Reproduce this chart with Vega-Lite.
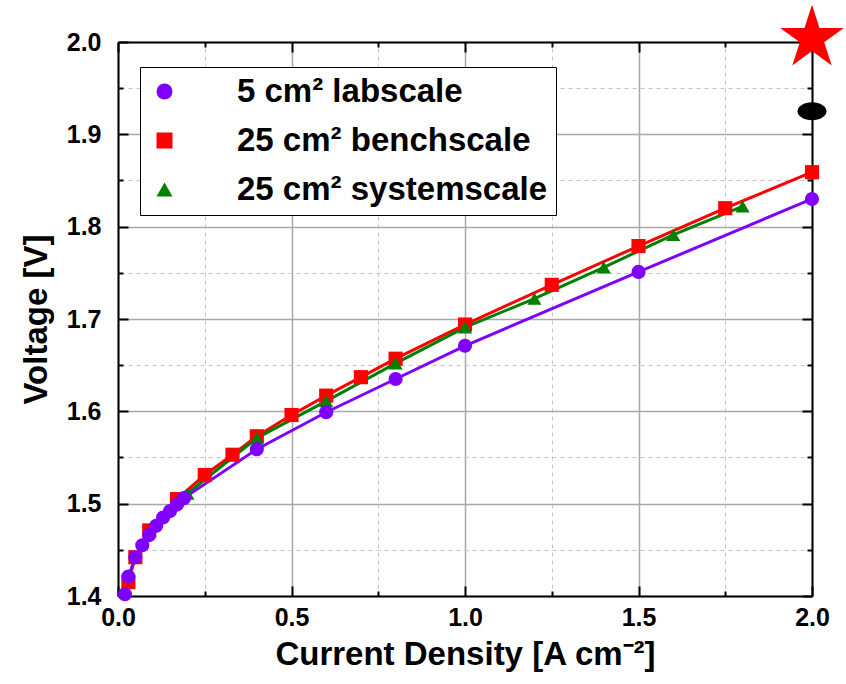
{
  "$schema": "https://vega.github.io/schema/vega-lite/v6.json",
  "width": 694,
  "height": 554,
  "autosize": {"type": "none"},
  "padding": {"left": 118, "top": 42, "right": 34, "bottom": 88},
  "background": "white",
  "config": {
    "view": {"stroke": null},
    "font": "Liberation Sans",
    "axis": {
      "domainColor": "black",
      "domainWidth": 2,
      "tickColor": "black",
      "tickWidth": 2,
      "labelColor": "black",
      "labelFont": "Liberation Sans",
      "labelFontWeight": "bold",
      "titleFont": "Liberation Sans",
      "titleFontWeight": "bold",
      "titleColor": "black",
      "labelFlush": false,
      "labelOverlap": false
    }
  },
  "datasets": {
    "curves": [
      {"series": "25 cm² benchscale", "x": 0.03, "y": 1.415},
      {"series": "25 cm² benchscale", "x": 0.05, "y": 1.442},
      {"series": "25 cm² benchscale", "x": 0.09, "y": 1.471},
      {"series": "25 cm² benchscale", "x": 0.17, "y": 1.505},
      {"series": "25 cm² benchscale", "x": 0.25, "y": 1.531},
      {"series": "25 cm² benchscale", "x": 0.33, "y": 1.553},
      {"series": "25 cm² benchscale", "x": 0.4, "y": 1.573},
      {"series": "25 cm² benchscale", "x": 0.5, "y": 1.596},
      {"series": "25 cm² benchscale", "x": 0.6, "y": 1.617},
      {"series": "25 cm² benchscale", "x": 0.7, "y": 1.637},
      {"series": "25 cm² benchscale", "x": 0.8, "y": 1.657},
      {"series": "25 cm² benchscale", "x": 1.0, "y": 1.694},
      {"series": "25 cm² benchscale", "x": 1.25, "y": 1.737},
      {"series": "25 cm² benchscale", "x": 1.5, "y": 1.779},
      {"series": "25 cm² benchscale", "x": 1.75, "y": 1.82},
      {"series": "25 cm² benchscale", "x": 2.0, "y": 1.859},
      {"series": "25 cm² systemscale", "x": 0.2, "y": 1.511},
      {"series": "25 cm² systemscale", "x": 0.4, "y": 1.571},
      {"series": "25 cm² systemscale", "x": 0.6, "y": 1.611},
      {"series": "25 cm² systemscale", "x": 0.8, "y": 1.652},
      {"series": "25 cm² systemscale", "x": 1.0, "y": 1.691},
      {"series": "25 cm² systemscale", "x": 1.2, "y": 1.722},
      {"series": "25 cm² systemscale", "x": 1.4, "y": 1.756},
      {"series": "25 cm² systemscale", "x": 1.6, "y": 1.791},
      {"series": "25 cm² systemscale", "x": 1.8, "y": 1.822},
      {"series": "5 cm² labscale", "x": 0.02, "y": 1.402},
      {"series": "5 cm² labscale", "x": 0.03, "y": 1.421},
      {"series": "5 cm² labscale", "x": 0.05, "y": 1.442},
      {"series": "5 cm² labscale", "x": 0.07, "y": 1.455},
      {"series": "5 cm² labscale", "x": 0.09, "y": 1.466},
      {"series": "5 cm² labscale", "x": 0.11, "y": 1.476},
      {"series": "5 cm² labscale", "x": 0.13, "y": 1.485},
      {"series": "5 cm² labscale", "x": 0.15, "y": 1.492},
      {"series": "5 cm² labscale", "x": 0.17, "y": 1.499},
      {"series": "5 cm² labscale", "x": 0.19, "y": 1.506},
      {"series": "5 cm² labscale", "x": 0.4, "y": 1.559},
      {"series": "5 cm² labscale", "x": 0.6, "y": 1.599},
      {"series": "5 cm² labscale", "x": 0.8, "y": 1.635},
      {"series": "5 cm² labscale", "x": 1.0, "y": 1.671},
      {"series": "5 cm² labscale", "x": 1.5, "y": 1.751},
      {"series": "5 cm² labscale", "x": 2.0, "y": 1.83}
    ],
    "extra": [
      {"marker": "star", "x": 2.0, "y": 2.004},
      {"marker": "ellipse", "x": 2.0, "y": 1.925}
    ]
  },
  "data": {"name": "curves"},
  "layer": [
    {
      "mark": {"type": "point", "opacity": 0},
      "encoding": {
        "x": {
          "field": "x", "type": "quantitative",
          "scale": {"domain": [0, 2], "nice": false, "zero": false},
          "axis": {
            "orient": "top",
            "values": [0.25, 0.75, 1.25, 1.75],
            "labels": false,
            "tickSize": -5,
            "grid": true,
            "gridColor": "#c4c4c4",
            "gridWidth": 1,
            "gridDash": [4, 4],
            "domain": true,
            "title": null
          }
        },
        "y": {
          "field": "y", "type": "quantitative",
          "scale": {"domain": [1.4, 2.0], "nice": false, "zero": false},
          "axis": {
            "orient": "right",
            "values": [1.45, 1.55, 1.65, 1.75, 1.85, 1.95],
            "labels": false,
            "tickSize": -5,
            "grid": true,
            "gridColor": "#c4c4c4",
            "gridWidth": 1,
            "gridDash": [4, 4],
            "domain": true,
            "title": null
          }
        }
      }
    },
    {
      "mark": {"type": "point", "opacity": 0},
      "encoding": {
        "x": {
          "field": "x", "type": "quantitative",
          "axis": {
            "orient": "bottom",
            "values": [0.25, 0.75, 1.25, 1.75],
            "labels": false,
            "tickSize": -5,
            "grid": false,
            "domain": false,
            "title": null
          }
        },
        "y": {
          "field": "y", "type": "quantitative",
          "axis": {
            "orient": "left",
            "values": [1.45, 1.55, 1.65, 1.75, 1.85, 1.95],
            "labels": false,
            "tickSize": -5,
            "grid": false,
            "domain": false,
            "title": null
          }
        }
      }
    },
    {
      "mark": {"type": "point", "opacity": 0},
      "encoding": {
        "x": {
          "field": "x", "type": "quantitative",
          "axis": {
            "orient": "top",
            "values": [0, 0.5, 1, 1.5, 2],
            "labels": false,
            "tickSize": -10,
            "grid": false,
            "domain": false,
            "title": null
          }
        },
        "y": {
          "field": "y", "type": "quantitative",
          "axis": {
            "orient": "right",
            "values": [1.4, 1.5, 1.6, 1.7, 1.8, 1.9, 2.0],
            "labels": false,
            "tickSize": -10,
            "grid": false,
            "domain": false,
            "title": null
          }
        }
      }
    },
    {
      "mark": {"type": "line", "strokeWidth": 3},
      "encoding": {
        "x": {
          "field": "x", "type": "quantitative",
          "axis": {
            "orient": "bottom",
            "values": [0, 0.5, 1, 1.5, 2],
            "format": ".1f",
            "labelFontSize": 25,
            "labelPadding": 19,
            "tickSize": -10,
            "grid": true,
            "gridColor": "#a8a8a8",
            "gridWidth": 1.5,
            "domain": true,
            "title": "Current Density [A cm⁻²]",
            "titleFontSize": 33,
            "titlePadding": 8
          }
        },
        "y": {
          "field": "y", "type": "quantitative",
          "axis": {
            "orient": "left",
            "values": [1.4, 1.5, 1.6, 1.7, 1.8, 1.9, 2.0],
            "format": ".1f",
            "labelFontSize": 25,
            "labelPadding": 27,
            "tickSize": -10,
            "grid": true,
            "gridColor": "#a8a8a8",
            "gridWidth": 1.5,
            "domain": true,
            "title": "Voltage [V]",
            "titleFontSize": 33,
            "titlePadding": 13
          }
        },
        "color": {
          "field": "series", "type": "nominal",
          "scale": {
            "domain": ["5 cm² labscale", "25 cm² benchscale", "25 cm² systemscale"],
            "range": ["#7f00ff", "#ff0000", "#008000"]
          },
          "legend": {
            "title": null,
            "orient": "none",
            "legendX": 22,
            "legendY": 25,
            "padding": 8,
            "strokeColor": "black",
            "fillColor": "white",
            "labelFont": "Liberation Sans",
            "labelFontSize": 33,
            "labelFontWeight": "bold",
            "labelColor": "black",
            "labelLimit": 0,
            "labelOffset": 56,
            "rowPadding": 15,
            "symbolSize": 256,
            "symbolStrokeWidth": 0,
            "symbolOpacity": 1,
            "encode": {
              "symbols": {
                "update": {
                  "shape": {"signal": "datum.value == '5 cm² labscale' ? 'M-1,-0.19 H8.375 V0.19 H-1 Z M2.94,0 A0.75,0.75 0 1,1 4.44,0 A0.75,0.75 0 1,1 2.94,0 Z' : datum.value == '25 cm² benchscale' ? 'M-1,-0.19 H8.375 V0.19 H-1 Z M2.94,-0.75 H4.44 V0.75 H2.94 Z' : 'M-1,-0.19 H8.375 V0.19 H-1 Z M2.75,0.75 L3.69,-1.0 L4.63,0.75 Z'"},
                  "size": {"value": 256},
                  "fill": {"signal": "datum.value == '5 cm² labscale' ? '#7f00ff' : datum.value == '25 cm² benchscale' ? '#ff0000' : '#008000'"},
                  "stroke": {"value": "transparent"},
                  "strokeWidth": {"value": 0}
                }
              }
            }
          }
        }
      }
    },
    {
      "mark": {"type": "point", "filled": true, "size": 200, "opacity": 1},
      "encoding": {
        "x": {"field": "x", "type": "quantitative", "axis": null},
        "y": {"field": "y", "type": "quantitative", "axis": null},
        "color": {"field": "series", "type": "nominal", "legend": null},
        "shape": {
          "field": "series", "type": "nominal",
          "scale": {
            "domain": ["5 cm² labscale", "25 cm² benchscale", "25 cm² systemscale"],
            "range": ["circle", "square", "triangle-up"]
          },
          "legend": null
        }
      }
    },
    {
      "data": {"name": "extra"},
      "transform": [{"filter": "datum.marker == 'star'"}],
      "mark": {"type": "point", "shape": "M0,-1 L0.2245,-0.309 L0.951,-0.309 L0.363,0.118 L0.588,0.809 L0,0.382 L-0.588,0.809 L-0.363,0.118 L-0.951,-0.309 L-0.2245,-0.309 Z", "filled": true, "color": "#ff0000", "size": 4500, "opacity": 1},
      "encoding": {
        "x": {"field": "x", "type": "quantitative", "axis": null},
        "y": {"field": "y", "type": "quantitative", "axis": null}
      }
    },
    {
      "data": {"name": "extra"},
      "transform": [{"filter": "datum.marker == 'ellipse'"}],
      "mark": {"type": "point", "shape": "M-1,0 A1,0.62 0 1,0 1,0 A1,0.62 0 1,0 -1,0 Z", "filled": true, "color": "black", "size": 841, "opacity": 1},
      "encoding": {
        "x": {"field": "x", "type": "quantitative", "axis": null},
        "y": {"field": "y", "type": "quantitative", "axis": null}
      }
    }
  ],
  "resolve": {"axis": {"x": "independent", "y": "independent"}}
}
